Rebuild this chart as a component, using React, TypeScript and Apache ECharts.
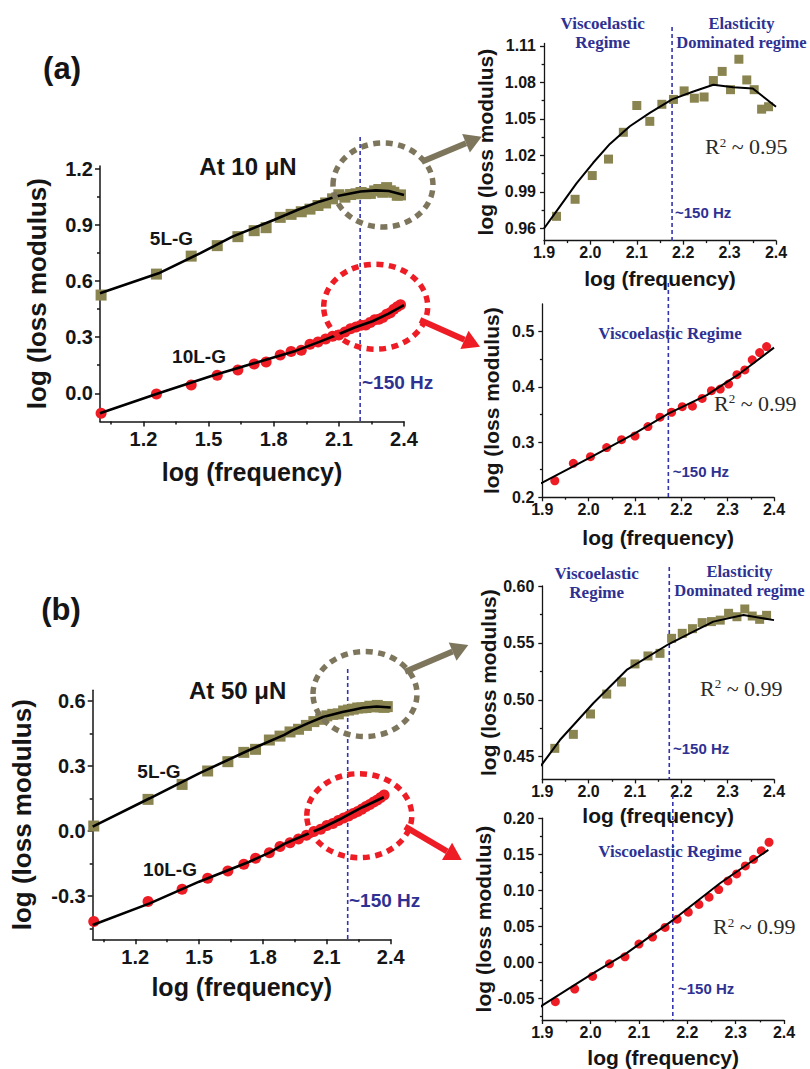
import React, { useEffect, useRef } from 'react';
import * as echarts from 'echarts';

// ---------------- data ----------------
const logFreqLow = [1.005, 1.26, 1.42, 1.54, 1.635, 1.71, 1.765, 1.83, 1.88];
const logFreqHigh = [1.927, 1.967, 2.004, 2.039, 2.071, 2.1, 2.128, 2.154, 2.179, 2.202, 2.224, 2.245, 2.265, 2.284, 2.302, 2.32, 2.337, 2.353, 2.369, 2.384];

// 10 uN, 5L-G
const a5Low = [0.525, 0.637, 0.733, 0.789, 0.837, 0.869, 0.885, 0.94, 0.956];
const a5High = [0.97, 0.984, 1.0035, 1.017, 1.039, 1.061, 1.048, 1.062, 1.066, 1.073, 1.067, 1.068, 1.0815, 1.089, 1.074, 1.099, 1.082, 1.074, 1.058, 1.06];
// 10 uN, 10L-G
const a10Low = [-0.107, -0.004, 0.045, 0.096, 0.125, 0.157, 0.167, 0.205, 0.223];
const a10High = [0.23, 0.2616, 0.2736, 0.29, 0.3044, 0.311, 0.328, 0.345, 0.354, 0.364, 0.365, 0.379, 0.393, 0.396, 0.405, 0.422, 0.4306, 0.449, 0.462, 0.473];
// 50 uN, 5L-G
const b5Low = [0.023, 0.146, 0.215, 0.277, 0.32, 0.363, 0.377, 0.42, 0.438];
const b5High = [0.4573, 0.4696, 0.4875, 0.505, 0.5156, 0.5315, 0.5385, 0.5408, 0.554, 0.5584, 0.5625, 0.5678, 0.5687, 0.57, 0.576, 0.573, 0.5798, 0.5736, 0.5707, 0.5742];
// 50 uN, 10L-G
const b10Low = [-0.418, -0.326, -0.269, -0.218, -0.185, -0.154, -0.126, -0.1, -0.072];
const b10High = [-0.0546, -0.037, -0.0195, -0.002, 0.0077, 0.0253, 0.035, 0.0484, 0.0599, 0.0696, 0.0803, 0.0904, 0.101, 0.113, 0.1227, 0.1338, 0.143, 0.155, 0.1666];

// fitted curves
const fitA5MainX = [1.0, 1.27, 1.46, 1.61, 1.8, 1.92, 2.01, 2.1, 2.2, 2.27, 2.33, 2.4];
const fitA5MainY = [0.535, 0.641, 0.748, 0.837, 0.926, 0.985, 1.024, 1.056, 1.078, 1.084, 1.081, 1.06];
const fitA5InsetX = [1.9, 1.934, 1.97, 2.006, 2.042, 2.085, 2.128, 2.176, 2.222, 2.265, 2.308, 2.35, 2.4];
const fitA5InsetY = [0.96, 0.978, 0.997, 1.014, 1.0295, 1.044, 1.055, 1.066, 1.0725, 1.078, 1.076, 1.075, 1.06];
const fitA10X = [1.0, 1.27, 1.52, 1.76, 1.9, 2.01, 2.096, 2.173, 2.255, 2.327, 2.4];
const fitA10Y = [-0.107, 0.0, 0.095, 0.178, 0.2266, 0.275, 0.314, 0.352, 0.385, 0.4245, 0.471];
const fitB5X = [1.0, 1.268, 1.5, 1.736, 1.9, 1.938, 2.01, 2.082, 2.173, 2.226, 2.269, 2.334, 2.4];
const fitB5Y = [0.02, 0.151, 0.266, 0.374, 0.4436, 0.4646, 0.4969, 0.5262, 0.549, 0.5599, 0.5687, 0.5745, 0.57];
const fitB10X = [1.0, 1.268, 1.5, 1.736, 1.83, 1.9, 2.0055, 2.0745, 2.171, 2.2676, 2.3676];
const fitB10Y = [-0.434, -0.334, -0.234, -0.142, -0.1, -0.0597, -0.0149, 0.0128, 0.059, 0.1098, 0.156];

// axis ticks
const mainXTicks = [1.2, 1.5, 1.8, 2.1, 2.4];
const mainXMinor = [1.05, 1.35, 1.65, 1.95, 2.25];
const mainAYTicks = [0.0, 0.3, 0.6, 0.9, 1.2];
const mainAYMinor = [0.15, 0.45, 0.75, 1.05];
const mainBYTicks = [-0.3, 0.0, 0.3, 0.6];
const mainBYMinor = [-0.45, -0.15, 0.15, 0.45];
const insetXTicks = [1.9, 2.0, 2.1, 2.2, 2.3, 2.4];
const insetXMinor = [1.95, 2.05, 2.15, 2.25, 2.35];
const insetATopYTicks = [0.96, 0.99, 1.02, 1.05, 1.08, 1.11];
const insetATopYMinor = [0.975, 1.005, 1.035, 1.065, 1.095];
const insetABotYTicks = [0.2, 0.3, 0.4, 0.5];
const insetABotYMinor = [0.25, 0.35, 0.45];
const insetBTopYTicks = [0.45, 0.5, 0.55, 0.6];
const insetBTopYMinor = [0.475, 0.525, 0.575];
const insetBBotYTicks = [-0.05, 0.0, 0.05, 0.1, 0.15, 0.2];
const insetBBotYMinor = [-0.075, -0.025, 0.025, 0.075, 0.125, 0.175];

// ---------------- styles ----------------
const SANS = "'Liberation Sans', Arial, Helvetica, sans-serif";
const SERIF = "'Liberation Serif', 'Times New Roman', serif";
const OLIVE = '#8a8450';
const OLIVE_DARK = '#7d765d';
const RED = '#ee1c24';
const BLUE = '#2e3192';
const INK = '#151515';

const pair = (xs: number[], ys: number[]) => ys.map((y, i) => [xs[i], y]);

type AxisCfg = {
  min: number; max: number; ticks: number[]; minor: number[]; dec: number;
  fs: number; margin: number; name: string; nameGap: number; nameFs: number;
  tickLen: number; lw: number;
};

function axisPair(dim: 'x' | 'y', gridIndex: number, c: AxisCfg) {
  const position = dim === 'x' ? 'bottom' : 'left';
  const line = { color: INK, width: c.lw };
  return [
    {
      type: 'value', gridIndex, min: c.min, max: c.max, position,
      axisLine: { show: true, onZero: false, lineStyle: line },
      axisTick: { show: true, customValues: c.ticks, length: c.tickLen, lineStyle: line },
      axisLabel: {
        show: true, customValues: c.ticks, margin: c.margin,
        formatter: (v: number) => v.toFixed(c.dec),
        fontFamily: SANS, fontWeight: 'bold', fontSize: c.fs, color: INK,
      },
      splitLine: { show: false },
      name: c.name, nameLocation: 'middle', nameGap: c.nameGap,
      nameTextStyle: { fontFamily: SANS, fontWeight: 'bold', fontSize: c.nameFs, color: INK },
    },
    {
      type: 'value', gridIndex, min: c.min, max: c.max, position,
      axisLine: { show: false, onZero: false },
      axisTick: { show: true, customValues: c.minor, length: c.tickLen * 0.6, lineStyle: line },
      axisLabel: { show: false },
      splitLine: { show: false },
    },
  ];
}

const grids = [
  { left: 100, top: 165.9, width: 304, height: 255.5 },     // main a
  { left: 92.7, top: 690.2, width: 298, height: 249.1 },    // main b
  { left: 544, top: 43.4, width: 232, height: 197.3 },      // inset a top
  { left: 542.3, top: 304, width: 231.7, height: 193.3 },   // inset a bottom
  { left: 542.3, top: 586, width: 231.7, height: 193.4 },   // inset b top
  { left: 542.3, top: 818.2, width: 241.7, height: 202.1 }, // inset b bottom
];

const FREQ = 'log (frequency)';
const LOSS = 'log (loss modulus)';
const mainX = (gap: number) => ({ min: 1.0, max: 2.4, ticks: mainXTicks, minor: mainXMinor, dec: 1, fs: 20, margin: 8, name: FREQ, nameGap: 38, nameFs: 25, tickLen: 5, lw: 1.5 });
const insetX = (gap: number) => ({ min: 1.9, max: 2.4, ticks: insetXTicks, minor: insetXMinor, dec: 1, fs: 16, margin: 4, name: FREQ, nameGap: gap, nameFs: 21, tickLen: 4, lw: 1.3 });

const xCfgs: AxisCfg[] = [mainX(38), { ...mainX(35), nameGap: 35 }, insetX(27), insetX(30), insetX(26), insetX(27)];
const yCfgs: AxisCfg[] = [
  { min: -0.15, max: 1.215, ticks: mainAYTicks, minor: mainAYMinor, dec: 1, fs: 20, margin: 7, name: LOSS, nameGap: 50, nameFs: 26, tickLen: 5, lw: 1.5 },
  { min: -0.5, max: 0.65, ticks: mainBYTicks, minor: mainBYMinor, dec: 1, fs: 20, margin: 7, name: LOSS, nameGap: 58, nameFs: 26, tickLen: 5, lw: 1.5 },
  { min: 0.95, max: 1.112, ticks: insetATopYTicks, minor: insetATopYMinor, dec: 2, fs: 16, margin: 8, name: LOSS, nameGap: 48, nameFs: 21, tickLen: 4, lw: 1.3 },
  { min: 0.2, max: 0.55, ticks: insetABotYTicks, minor: insetABotYMinor, dec: 1, fs: 16, margin: 8, name: LOSS, nameGap: 40, nameFs: 21, tickLen: 4, lw: 1.3 },
  { min: 0.43, max: 0.6, ticks: insetBTopYTicks, minor: insetBTopYMinor, dec: 2, fs: 16, margin: 8, name: LOSS, nameGap: 40, nameFs: 21, tickLen: 4, lw: 1.3 },
  { min: -0.08, max: 0.2, ticks: insetBBotYTicks, minor: insetBBotYMinor, dec: 2, fs: 16, margin: 8, name: LOSS, nameGap: 45, nameFs: 21, tickLen: 4, lw: 1.3 },
];

function scatter(g: number, data: number[][], sq: boolean, size: number) {
  return {
    type: 'scatter', xAxisIndex: 2 * g, yAxisIndex: 2 * g, data,
    symbol: sq ? 'rect' : 'circle', symbolSize: size,
    itemStyle: { color: sq ? OLIVE : RED, opacity: 1 }, z: 2,
  };
}
function fit(g: number, data: number[][], w: number) {
  return {
    type: 'line', xAxisIndex: 2 * g, yAxisIndex: 2 * g, data, showSymbol: false, symbol: 'none',
    clip: true, lineStyle: { color: '#000', width: w }, z: 3,
  };
}

const a5All = [...pair(logFreqLow, a5Low), ...pair(logFreqHigh, a5High)];
const a10All = [...pair(logFreqLow, a10Low), ...pair(logFreqHigh, a10High)];
const b5All = [...pair(logFreqLow, b5Low), ...pair(logFreqHigh, b5High)];
const b10All = [...pair(logFreqLow, b10Low), ...pair(logFreqHigh, b10High)];

const series = [
  scatter(0, a5All, true, 11), scatter(0, a10All, false, 11),
  fit(0, pair(fitA5MainX, fitA5MainY), 2.6), fit(0, pair(fitA10X, fitA10Y), 2.6),
  scatter(1, b5All, true, 11), scatter(1, b10All, false, 11),
  fit(1, pair(fitB5X, fitB5Y), 2.6), fit(1, pair(fitB10X, fitB10Y), 2.6),
  scatter(2, pair(logFreqHigh, a5High), true, 9), fit(2, pair(fitA5InsetX, fitA5InsetY), 2),
  scatter(3, pair(logFreqHigh, a10High), false, 9), fit(3, pair(fitA10X, fitA10Y), 2),
  scatter(4, pair(logFreqHigh, b5High), true, 9), fit(4, pair(fitB5X, fitB5Y), 2),
  scatter(5, pair(logFreqHigh, b10High), false, 9), fit(5, pair(fitB10X, fitB10Y), 2),
];

// ~150 Hz marker lines: [grid, x value, top pixel]
const markerLines: [number, number, number][] = [
  [0, 2.198, 137], [1, 2.198, 669], [2, 2.176, 27], [3, 2.172, 283], [4, 2.174, 567], [5, 2.17, 795],
];

// ---------------- annotations ----------------
function txt(text: string, x: number, y: number, fs: number, opts: any = {}) {
  const align = opts.align || 'center';
  return {
    type: 'text', x, y, z: 10,
    style: {
      text, fontSize: fs, fontFamily: opts.family || SANS, fontWeight: opts.weight || 'bold',
      fill: opts.color || INK, align, textAlign: align, verticalAlign: 'middle', textVerticalAlign: 'middle',
      lineHeight: opts.lineHeight,
    },
  };
}
function r2(text: string, x: number, y: number) {
  return {
    type: 'text', x, y, z: 10,
    style: {
      text: `{r|R}{s|2}{r| ~ ${text}}`, align: 'left', textAlign: 'left', verticalAlign: 'middle', textVerticalAlign: 'middle',
      rich: {
        r: { fontFamily: SERIF, fontSize: 22, fill: '#2a2a2a', color: '#2a2a2a' },
        s: { fontFamily: SERIF, fontSize: 13, fill: '#2a2a2a', color: '#2a2a2a', verticalAlign: 'top', padding: [0, 0, 8, 0] },
      },
    },
  };
}
function ellipse(cx: number, cy: number, rx: number, ry: number, color: string) {
  return {
    type: 'ellipse', z: 8, shape: { cx, cy, rx, ry },
    style: { fill: 'none', stroke: color, lineWidth: 5.5, lineDash: [7, 5.5] },
  };
}
function arrow(x1: number, y1: number, x2: number, y2: number, color: string) {
  const a = Math.atan2(y2 - y1, x2 - x1);
  const hl = 17, hw = 10;
  const bx = x2 - hl * Math.cos(a), by = y2 - hl * Math.sin(a);
  const px = -Math.sin(a), py = Math.cos(a);
  return [
    { type: 'line', z: 8, shape: { x1, y1, x2: bx, y2: by }, style: { stroke: color, lineWidth: 6 } },
    { type: 'polygon', z: 8, shape: { points: [[x2, y2], [bx + hw * px, by + hw * py], [bx - hw * px, by - hw * py]] }, style: { fill: color } },
  ];
}

const annotations: any[] = [
  txt('(a)', 62, 68, 31),
  txt('(b)', 61, 609, 31),
  txt('At 10 μN', 248, 166, 24),
  txt('5L-G', 171.5, 238, 19),
  txt('10L-G', 199, 356, 19),
  txt('~150 Hz', 362, 382, 19, { align: 'left', color: BLUE }),
  txt('At 50 μN', 237.7, 690.7, 24),
  txt('5L-G', 159, 771, 19),
  txt('10L-G', 170, 869.3, 19),
  txt('~150 Hz', 349, 900, 19, { align: 'left', color: BLUE }),
  // inset a top
  txt('Viscoelastic\nRegime', 602.7, 33.4, 17, { family: SERIF, color: BLUE, lineHeight: 19 }),
  txt('Elasticity\nDominated regime', 741.5, 33.4, 16.5, { family: SERIF, color: BLUE, lineHeight: 19 }),
  txt('~150 Hz', 675, 212, 15, { align: 'left', color: BLUE }),
  r2('0.95', 705, 146.7),
  // inset a bottom
  txt('Viscoelastic Regime', 670, 333.3, 17, { family: SERIF, color: BLUE }),
  txt('~150 Hz', 672.7, 471.7, 15, { align: 'left', color: BLUE }),
  r2('0.99', 714, 403),
  // inset b top
  txt('Viscoelastic\nRegime', 596.7, 582.5, 17, { family: SERIF, color: BLUE, lineHeight: 19 }),
  txt('Elasticity\nDominated regime', 739.5, 581.2, 16.5, { family: SERIF, color: BLUE, lineHeight: 19 }),
  txt('~150 Hz', 673, 748.3, 15, { align: 'left', color: BLUE }),
  r2('0.99', 700, 688.3),
  // inset b bottom
  txt('Viscoelastic Regime', 670, 851.7, 17, { family: SERIF, color: BLUE }),
  txt('~150 Hz', 678, 988.3, 15, { align: 'left', color: BLUE }),
  r2('0.99', 713, 926.7),
  // circles & arrows
  ellipse(383, 185, 50, 42, OLIVE_DARK),
  ellipse(375.7, 306.7, 52, 42.5, RED),
  ellipse(365, 694, 52, 42.5, OLIVE_DARK),
  ellipse(359.3, 815.7, 52.5, 42, RED),
  ...arrow(421.7, 161.7, 481.7, 136.7, OLIVE_DARK),
  ...arrow(420, 320, 480, 346.7, RED),
  ...arrow(405, 671.7, 468.3, 645, OLIVE_DARK),
  ...arrow(405, 826.7, 461.7, 860, RED),
];

const option: any = {
  animation: false,
  backgroundColor: '#ffffff',
  grid: grids,
  xAxis: xCfgs.flatMap((c, g) => axisPair('x', g, c)),
  yAxis: yCfgs.flatMap((c, g) => axisPair('y', g, c)),
  series,
};

export default function App() {
  const ref = useRef<HTMLDivElement>(null);
  useEffect(() => {
    const chart = echarts.init(ref.current!, null, { renderer: 'svg' });
    chart.setOption(option);
    const vlines = markerLines.map(([g, xv, top]) => {
      const p = chart.convertToPixel({ xAxisIndex: 2 * g, yAxisIndex: 2 * g } as any, [xv, yCfgs[g].min]) as number[];
      return {
        type: 'line', z: 1, shape: { x1: p[0], y1: top, x2: p[0], y2: p[1] },
        style: { stroke: '#3434b0', lineWidth: 1.6, lineDash: [4, 3] },
      };
    });
    chart.setOption({ graphic: [...vlines, ...annotations] });
    return () => chart.dispose();
  }, []);
  return (
    <div
      ref={ref}
      style={{ position: 'absolute', left: 0, top: 0, width: 810, height: 1069, background: '#fff' }}
    />
  );
}
